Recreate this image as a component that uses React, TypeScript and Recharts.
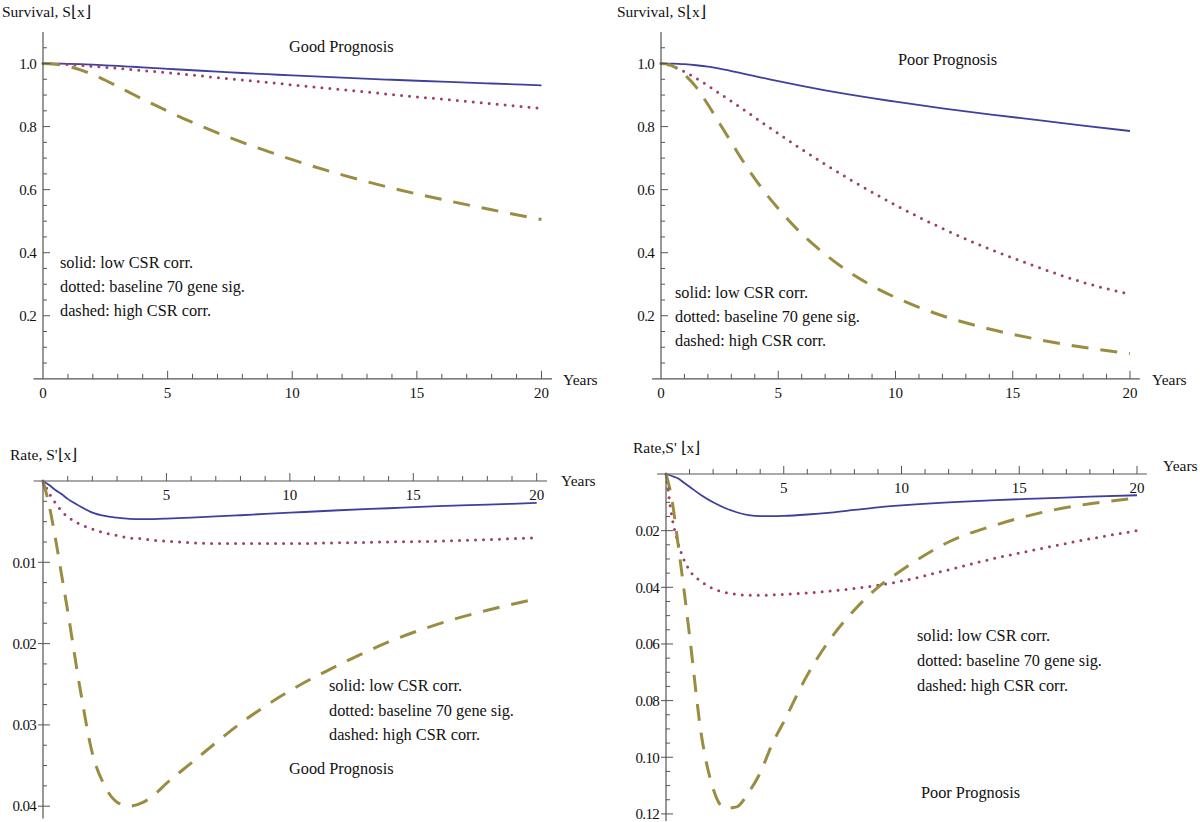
import { LineChart, Line, XAxis, YAxis, ReferenceLine } from "recharts"

// sample times (years)
const years = [0, 0.25, 0.5, 0.75, 1, 1.5, 2, 2.5, 3, 3.5, 4, 4.5, 5, 6, 7, 8, 9, 10, 12, 14, 16, 18, 20]

// survival S(x), good prognosis
const goodSurvLow = [1, 1, 0.9998, 0.9995, 0.999, 0.9978, 0.9963, 0.9944, 0.9923, 0.99, 0.9878, 0.9855, 0.9832, 0.9787, 0.9743, 0.97, 0.9661, 0.9622, 0.955, 0.9485, 0.9425, 0.9366, 0.931]
const goodSurvBase = [1, 0.9997, 0.9992, 0.998, 0.9968, 0.994, 0.9912, 0.9881, 0.9848, 0.9813, 0.9778, 0.9742, 0.9706, 0.9631, 0.9555, 0.9478, 0.9401, 0.9324, 0.917, 0.9018, 0.887, 0.8725, 0.858]
const goodSurvHigh = [1, 0.9995, 0.998, 0.995, 0.991, 0.98, 0.965, 0.947, 0.927, 0.907, 0.887, 0.868, 0.849, 0.813, 0.78, 0.75, 0.722, 0.695, 0.647, 0.605, 0.569, 0.536, 0.505]

// survival S(x), poor prognosis
const poorSurvLow = [1, 1, 0.9997, 0.999, 0.9978, 0.9945, 0.99, 0.9835, 0.976, 0.968, 0.96, 0.952, 0.944, 0.929, 0.915, 0.902, 0.89, 0.879, 0.858, 0.839, 0.821, 0.803, 0.786]
const poorSurvBase = [1, 0.997, 0.991, 0.983, 0.974, 0.953, 0.93, 0.905, 0.88, 0.855, 0.829, 0.803, 0.778, 0.728, 0.68, 0.635, 0.592, 0.551, 0.477, 0.412, 0.356, 0.306, 0.268]
const poorSurvHigh = [1, 0.998, 0.992, 0.981, 0.965, 0.925, 0.87, 0.81, 0.75, 0.69, 0.635, 0.585, 0.54, 0.46, 0.395, 0.34, 0.295, 0.258, 0.2, 0.158, 0.126, 0.1, 0.08]

// rate S'(x), good prognosis (magnitude)
const goodRateLow = [0, 0.0005, 0.0011, 0.0016, 0.0022, 0.0031, 0.0039, 0.0043, 0.0045, 0.00465, 0.0047, 0.00468, 0.00463, 0.0045, 0.00436, 0.00421, 0.00405, 0.0039, 0.0036, 0.00335, 0.0031, 0.0029, 0.0027]
const goodRateBase = [0, 0.0015, 0.0027, 0.0037, 0.0044, 0.0053, 0.0059, 0.0064, 0.0067, 0.007, 0.0071, 0.0073, 0.0074, 0.0076, 0.0077, 0.0077, 0.0077, 0.0077, 0.0076, 0.0075, 0.0074, 0.0072, 0.007]
const goodRateHigh = [0, 0.003, 0.007, 0.0115, 0.016, 0.0255, 0.0335, 0.0375, 0.0395, 0.04, 0.0396, 0.0386, 0.0372, 0.0347, 0.0322, 0.0298, 0.0277, 0.0258, 0.0226, 0.0198, 0.0176, 0.0159, 0.0145]

// rate S'(x), poor prognosis (magnitude)
const poorRateLow = [0, 0.0007, 0.0015, 0.003, 0.0045, 0.0075, 0.01, 0.012, 0.0135, 0.0145, 0.0149, 0.0149, 0.0148, 0.0143, 0.0136, 0.0127, 0.0118, 0.0111, 0.01, 0.0092, 0.0086, 0.008, 0.0075]
const poorRateBase = [0, 0.015, 0.024, 0.03, 0.034, 0.038, 0.0405, 0.0418, 0.0425, 0.0428, 0.0428, 0.0427, 0.0425, 0.042, 0.0413, 0.0404, 0.0393, 0.0378, 0.0338, 0.0297, 0.0262, 0.0229, 0.02]
const poorRateHigh = [0, 0.009, 0.024, 0.04, 0.057, 0.092, 0.111, 0.118, 0.1175, 0.1125, 0.1055, 0.0955, 0.0875, 0.071, 0.058, 0.048, 0.04, 0.034, 0.024, 0.018, 0.0135, 0.0105, 0.0085]

// ticks
const yearTicks = [1, 2, 3, 4, 5, 6, 7, 8, 9, 10, 11, 12, 13, 14, 15, 16, 17, 18, 19, 20]
const yearLabelsTop = [0, 5, 10, 15, 20]
const yearLabelsBottom = [5, 10, 15, 20]
const survTicks = [0.05, 0.1, 0.15, 0.2, 0.25, 0.3, 0.35, 0.4, 0.45, 0.5, 0.55, 0.6, 0.65, 0.7, 0.75, 0.8, 0.85, 0.9, 0.95, 1.0, 1.05]
const survLabels = [0.2, 0.4, 0.6, 0.8, 1.0]
const goodRateTicks = [0.0025, 0.005, 0.0075, 0.01, 0.0125, 0.015, 0.0175, 0.02, 0.0225, 0.025, 0.0275, 0.03, 0.0325, 0.035, 0.0375, 0.04]
const goodRateLabels = [0.01, 0.02, 0.03, 0.04]
const poorRateTicks = [0.005, 0.01, 0.015, 0.02, 0.025, 0.03, 0.035, 0.04, 0.045, 0.05, 0.055, 0.06, 0.065, 0.07, 0.075, 0.08, 0.085, 0.09, 0.095, 0.1, 0.105, 0.11, 0.115, 0.12]
const poorRateLabels = [0.02, 0.04, 0.06, 0.08, 0.1, 0.12]

const legendLines = ["solid: low CSR corr.", "dotted: baseline 70 gene sig.", "dashed: high CSR corr."]

const FONT = '"Liberation Serif", "Times New Roman", serif'
const AXIS = "#555"
const BLUE = "#3f3f9e"
const PLUM = "#9e3f68"
const OLIVE = "#9a8d42"

const has = (list: number[], v: number) => list.some((d) => Math.abs(d - v) < 1e-9)

function rowsOf(low: number[], base: number[], high: number[]) {
  return years.map((t, i) => ({ t, low: low[i], base: base[i], high: high[i] }))
}

function Txt({ x, y, children, size = 16.3 }: { x: number; y: number; children: string; size?: number }) {
  return (
    <div
      style={{
        position: "absolute",
        left: x,
        top: y - size * 0.6,
        fontFamily: FONT,
        fontSize: size,
        lineHeight: 1.2,
        whiteSpace: "nowrap",
        color: "#111",
      }}
    >
      {children}
    </div>
  )
}

interface PanelProps {
  left: number
  top: number
  width: number
  height: number
  margin: { top: number; right: number; bottom: number; left: number }
  data: { t: number; low: number; base: number; high: number }[]
  yDomain: [number, number]
  yTicks: number[]
  yLabels: number[]
  digits: number
  rate?: boolean
}

function Panel({ left, top, width, height, margin, data, yDomain, yTicks, yLabels, digits, rate }: PanelProps) {
  const xLabels = rate ? yearLabelsBottom : yearLabelsTop

  const xTick = (p: any) => {
    const v = p.payload.value as number
    const major = v % 5 === 0
    return (
      <g>
        {v > 0 && <line x1={p.x} x2={p.x} y1={p.y} y2={p.y - (major ? 8 : 5)} stroke={AXIS} strokeWidth={1} />}
        {has(xLabels, v) && (
          <text x={p.x} y={p.y + 19} textAnchor="middle" fontFamily={FONT} fontSize={15} fill="#111">
            {v}
          </text>
        )}
      </g>
    )
  }

  const yTick = (p: any) => {
    const v = p.payload.value as number
    const major = has(yLabels, v)
    const x1 = rate && major ? p.x - 5 : p.x
    return (
      <g>
        <line x1={x1} x2={p.x + (major ? 7 : 4)} y1={p.y} y2={p.y} stroke={AXIS} strokeWidth={1} />
        {major && (
          <text x={p.x - 7} y={p.y} dy="0.35em" textAnchor="end" fontFamily={FONT} fontSize={15} letterSpacing={-0.7} fill="#111">
            {v.toFixed(digits)}
          </text>
        )}
      </g>
    )
  }

  return (
    <div style={{ position: "absolute", left, top }}>
      <LineChart width={width} height={height} data={data} margin={margin}>
        <XAxis
          dataKey="t"
          type="number"
          domain={[0, 20]}
          ticks={[0, ...yearTicks]}
          interval={0}
          orientation={rate ? "top" : "bottom"}
          height={30}
          axisLine={false}
          tickLine={false}
          tickSize={0}
          tickMargin={0}
          tick={xTick}
        />
        <YAxis
          type="number"
          domain={yDomain}
          reversed={!!rate}
          ticks={yTicks}
          interval={0}
          width={40}
          axisLine={{ stroke: AXIS, strokeWidth: 1.2 }}
          tickLine={false}
          tickSize={0}
          tickMargin={0}
          tick={yTick}
        />
        <ReferenceLine
          segment={[
            { x: -0.38, y: 0 },
            { x: 20.42, y: 0 },
          ]}
          ifOverflow="visible"
          stroke={AXIS}
          strokeWidth={1.2}
        />
        <Line type="monotone" dataKey="low" stroke={BLUE} strokeWidth={1.8} dot={false} activeDot={false} isAnimationActive={false} />
        <Line
          type="monotone"
          dataKey="base"
          stroke={PLUM}
          strokeWidth={3}
          strokeDasharray="0 8"
          strokeLinecap="round"
          dot={false}
          activeDot={false}
          isAnimationActive={false}
        />
        <Line
          type="monotone"
          dataKey="high"
          stroke={OLIVE}
          strokeWidth={3}
          strokeDasharray="17 12"
          dot={false}
          activeDot={false}
          isAnimationActive={false}
        />
      </LineChart>
    </div>
  )
}

export default function App() {
  return (
    <div style={{ position: "absolute", left: 0, top: 0, width: 1200, height: 822, background: "#fff", overflow: "hidden" }}>
      {/* top left: survival, good prognosis */}
      <Panel
        left={2.5}
        top={21.5}
        width={560}
        height={386.8}
        margin={{ top: 10, right: 21.5, bottom: 0, left: 0 }}
        data={rowsOf(goodSurvLow, goodSurvBase, goodSurvHigh)}
        yDomain={[0, 1.1]}
        yTicks={survTicks}
        yLabels={survLabels}
        digits={1}
      />
      {/* top right: survival, poor prognosis */}
      <Panel
        left={621}
        top={21.5}
        width={530}
        height={386.8}
        margin={{ top: 10, right: 21, bottom: 0, left: 0 }}
        data={rowsOf(poorSurvLow, poorSurvBase, poorSurvHigh)}
        yDomain={[0, 1.1]}
        yTicks={survTicks}
        yLabels={survLabels}
        digits={1}
      />
      {/* bottom left: rate, good prognosis */}
      <Panel
        left={3.3}
        top={451.4}
        width={560}
        height={370.4}
        margin={{ top: 0, right: 26.3, bottom: 3, left: 0 }}
        data={rowsOf(goodRateLow, goodRateBase, goodRateHigh)}
        yDomain={[0, 0.0415]}
        yTicks={goodRateTicks}
        yLabels={goodRateLabels}
        digits={2}
        rate
      />
      {/* bottom right: rate, poor prognosis */}
      <Panel
        left={626}
        top={444}
        width={530}
        height={377}
        margin={{ top: 0, right: 19, bottom: 0, left: 0 }}
        data={rowsOf(poorRateLow, poorRateBase, poorRateHigh)}
        yDomain={[0, 0.1225]}
        yTicks={poorRateTicks}
        yLabels={poorRateLabels}
        digits={2}
        rate
      />

      <Txt x={2} y={12} size={15.5}>Survival, S⌊x⌋</Txt>
      <Txt x={289} y={47}>Good Prognosis</Txt>
      {legendLines.map((s, i) => (
        <Txt key={"tl" + i} x={60} y={263 + i * 24}>{s}</Txt>
      ))}
      <Txt x={563} y={380} size={15.5}>Years</Txt>

      <Txt x={617} y={12} size={15.5}>Survival, S⌊x⌋</Txt>
      <Txt x={898} y={60}>Poor Prognosis</Txt>
      {legendLines.map((s, i) => (
        <Txt key={"tr" + i} x={675} y={293 + i * 24}>{s}</Txt>
      ))}
      <Txt x={1152} y={380} size={15.5}>Years</Txt>

      <Txt x={10} y={455} size={15.5}>Rate, S'⌊x⌋</Txt>
      <Txt x={561} y={481} size={15.5}>Years</Txt>
      {legendLines.map((s, i) => (
        <Txt key={"bl" + i} x={329} y={686 + i * 24.5}>{s}</Txt>
      ))}
      <Txt x={289} y={769}>Good Prognosis</Txt>

      <Txt x={633} y={448} size={15.5}>Rate,S' ⌊x⌋</Txt>
      <Txt x={1163} y={466} size={15.5}>Years</Txt>
      {legendLines.map((s, i) => (
        <Txt key={"br" + i} x={917} y={636 + i * 25}>{s}</Txt>
      ))}
      <Txt x={921} y={793}>Poor Prognosis</Txt>
    </div>
  )
}
